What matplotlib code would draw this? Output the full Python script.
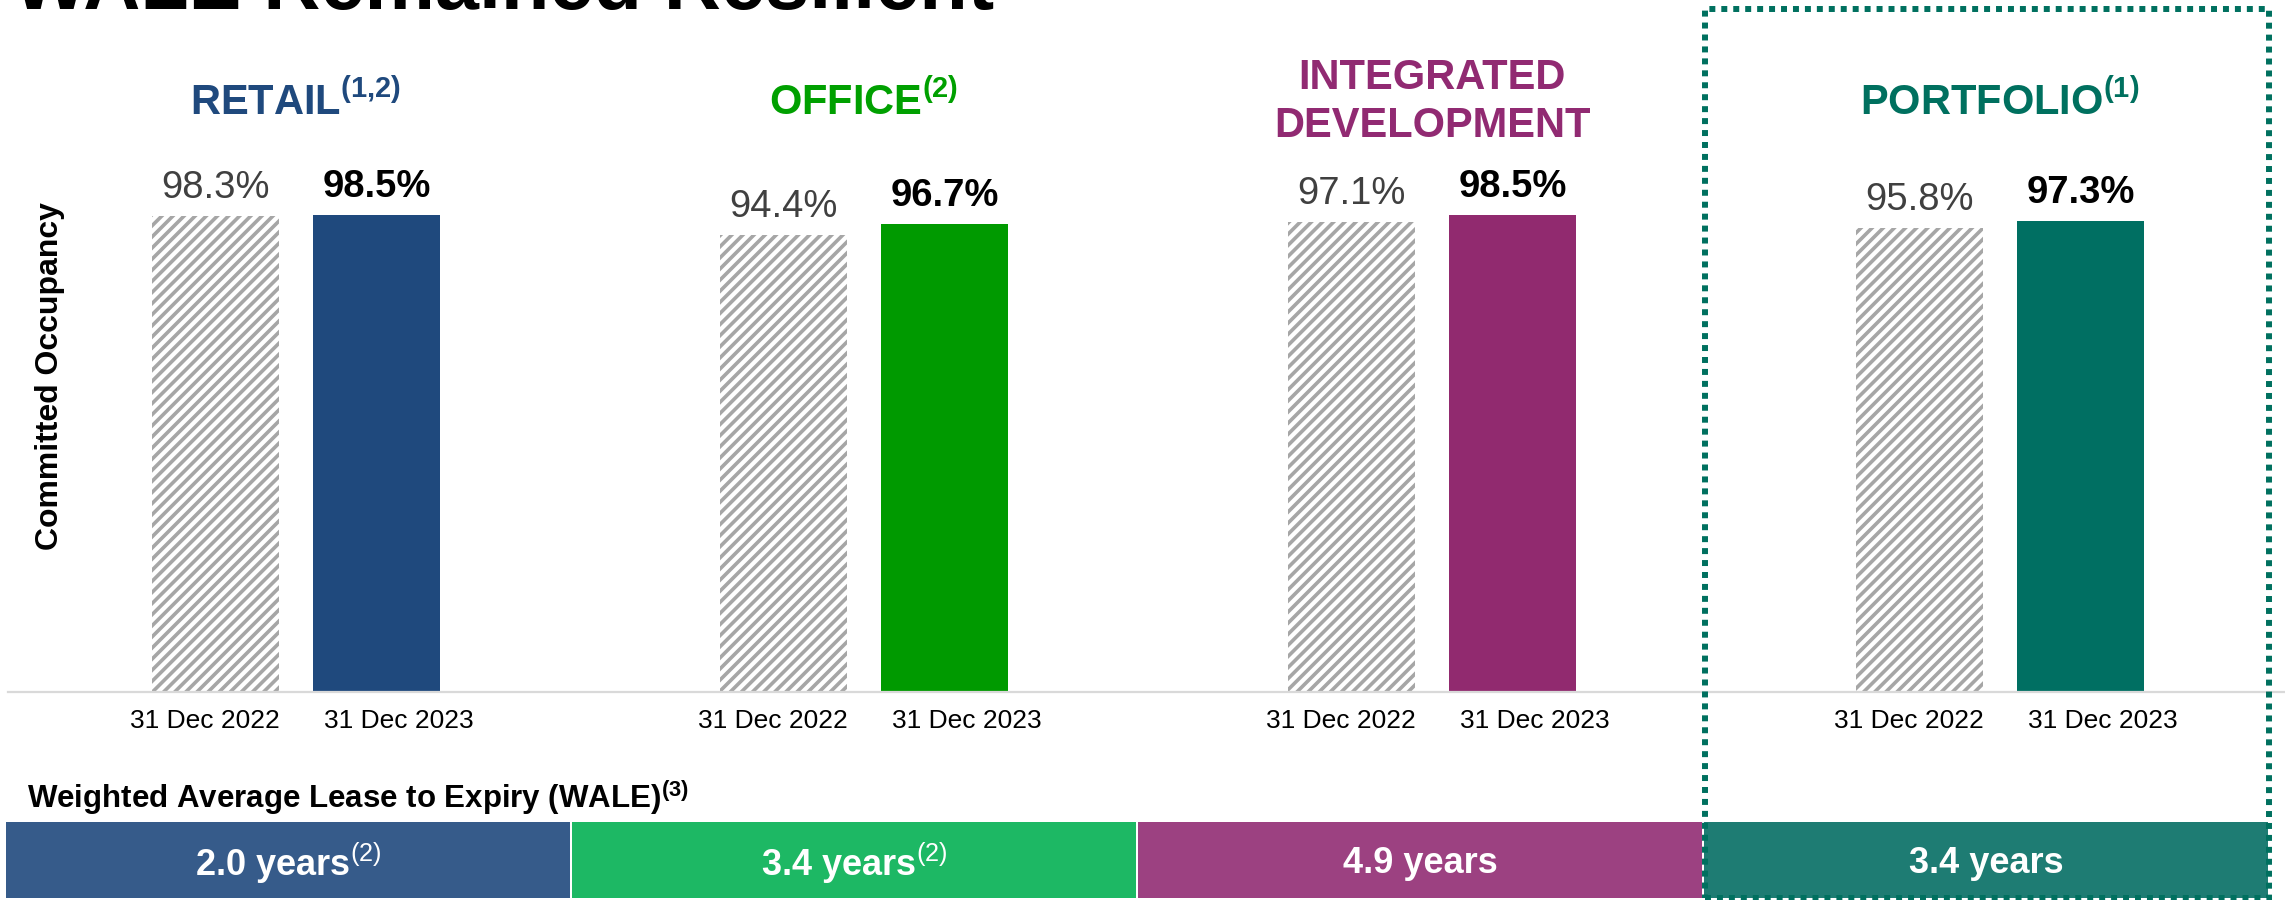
import matplotlib
matplotlib.use('Agg')
import matplotlib.pyplot as plt
import numpy as np
from matplotlib.patches import Rectangle
from matplotlib.transforms import blended_transform_factory

plt.rcParams['font.family'] = ['Liberation Sans', 'DejaVu Sans']
plt.rcParams['mathtext.fontset'] = 'custom'
plt.rcParams['mathtext.rm'] = 'Liberation Sans'
plt.rcParams['mathtext.it'] = 'Liberation Sans:italic'
plt.rcParams['mathtext.bf'] = 'Liberation Sans:bold'
plt.rcParams['hatch.color'] = '#A6A6A6'
plt.rcParams['hatch.linewidth'] = 2.6

# data
segments = ['RETAIL', 'OFFICE', 'INTEGRATED\nDEVELOPMENT', 'PORTFOLIO']
segment_notes = ['(1{,}2)', '(2)', '', '(1)']
period_labels = ['31 Dec 2022', '31 Dec 2023']
occ_2022 = [98.3, 94.4, 97.1, 95.8]
occ_2023 = [98.5, 96.7, 98.5, 97.3]
wale_years = [2.0, 3.4, 4.9, 3.4]
wale_notes = ['(2)', '(2)', '', '']

# styles
head_colors = ['#1F497D', '#00A000', '#912A72', '#00705F']
bar_colors = ['#1F497D', '#009A00', '#912A6F', '#006F62']
wale_colors = ['#365B8A', '#1DB864', '#9C4181', '#1E7C73']

W, H = 2285, 900
fig = plt.figure(figsize=(W / 100, H / 100), dpi=100)

def fx(px):
    return px / W

def fy(py):
    return 1 - py / H

# main bar axes: left edge 8px, baseline at 692px
ax = fig.add_axes([fx(8), fy(692), 1 - fx(8), 692 / H])
x = np.arange(len(segments))
off, bw = 0.1426, 0.2236
ax.bar(x - off, occ_2022, bw, color='white', hatch='///', edgecolor='#A6A6A6', linewidth=0)
ax.bar(x + off, occ_2023, bw, color=bar_colors, linewidth=0)
ax.set_xlim((8 - 296) / 568, (W - 296) / 568)
ax.set_ylim(0, 692 / 4.843)

for s in ['top', 'left', 'right']:
    ax.spines[s].set_visible(False)
ax.spines['bottom'].set_color('#D9D9D9')
ax.spines['bottom'].set_linewidth(1.6)
ax.set_yticks([])
# period labels sit a little apart from the bar centres
ticks = np.concatenate([x - off - 10 / 568, x + off + 22 / 568])
ax.set_xticks(ticks)
ax.set_xticklabels(period_labels[:1] * len(x) + period_labels[1:] * len(x), fontsize=19)
ax.tick_params(axis='x', length=0, pad=12)

for i in x:
    ax.annotate(f'{occ_2022[i]:.1f}%', (i - off, occ_2022[i]), xytext=(0, 13), textcoords='offset points',
                ha='center', va='baseline', fontsize=27.5, color='#404040')
    ax.annotate(f'{occ_2023[i]:.1f}%', (i + off, occ_2023[i]), xytext=(0, 13), textcoords='offset points',
                ha='center', va='baseline', fontsize=27.5, color='black', fontweight='bold')

# segment headers
tr = blended_transform_factory(ax.transData, fig.transFigure)
for i, name in enumerate(segments):
    label = name
    if segment_notes[i]:
        label = name + r'$^{\mathbf{' + segment_notes[i] + '}}$'
    ax.text(i, fy(102), label, transform=tr, ha='center', va='center', fontsize=30,
            fontweight='bold', color=head_colors[i], linespacing=1.25)

fig.text(fx(50), fy(376), 'Committed Occupancy', rotation=90, ha='center', va='center',
         fontsize=23, fontweight='bold')

# title (cut off at the top)
fig.text(fx(13), fy(9), 'WALE Remained Resilient', ha='left', va='baseline',
         fontsize=57, fontweight='bold')

# WALE strip
fig.text(fx(27), fy(808), r'Weighted Average Lease to Expiry (WALE)$^{\mathbf{(3)}}$',
         ha='left', va='baseline', fontsize=22.5, fontweight='bold')
ax2 = fig.add_axes([fx(5), fy(898), fx(2269 - 5), (898 - 822) / H])
ax2.bar(x, [1] * len(x), width=0.9947, color=wale_colors, linewidth=0)
ax2.set_xlim(-0.5, len(x) - 0.5)
ax2.set_ylim(0, 1)
ax2.axis('off')
for i, yrs in enumerate(wale_years):
    txt = f'{yrs:.1f} years'
    if wale_notes[i]:
        txt += r'$^{' + wale_notes[i] + '}$'
    ax2.text(i, 0.45, txt, ha='center', va='center', fontsize=26, fontweight='bold', color='white')

# dotted box around portfolio
box = Rectangle((fx(1705), fy(898)), fx(2269 - 1705), (898 - 9) / H, transform=fig.transFigure,
                fill=False, edgecolor='#00705F', linewidth=4.3, linestyle=(0, (1, 1)), zorder=5)
fig.add_artist(box)

fig.savefig('out.png', dpi=100)
